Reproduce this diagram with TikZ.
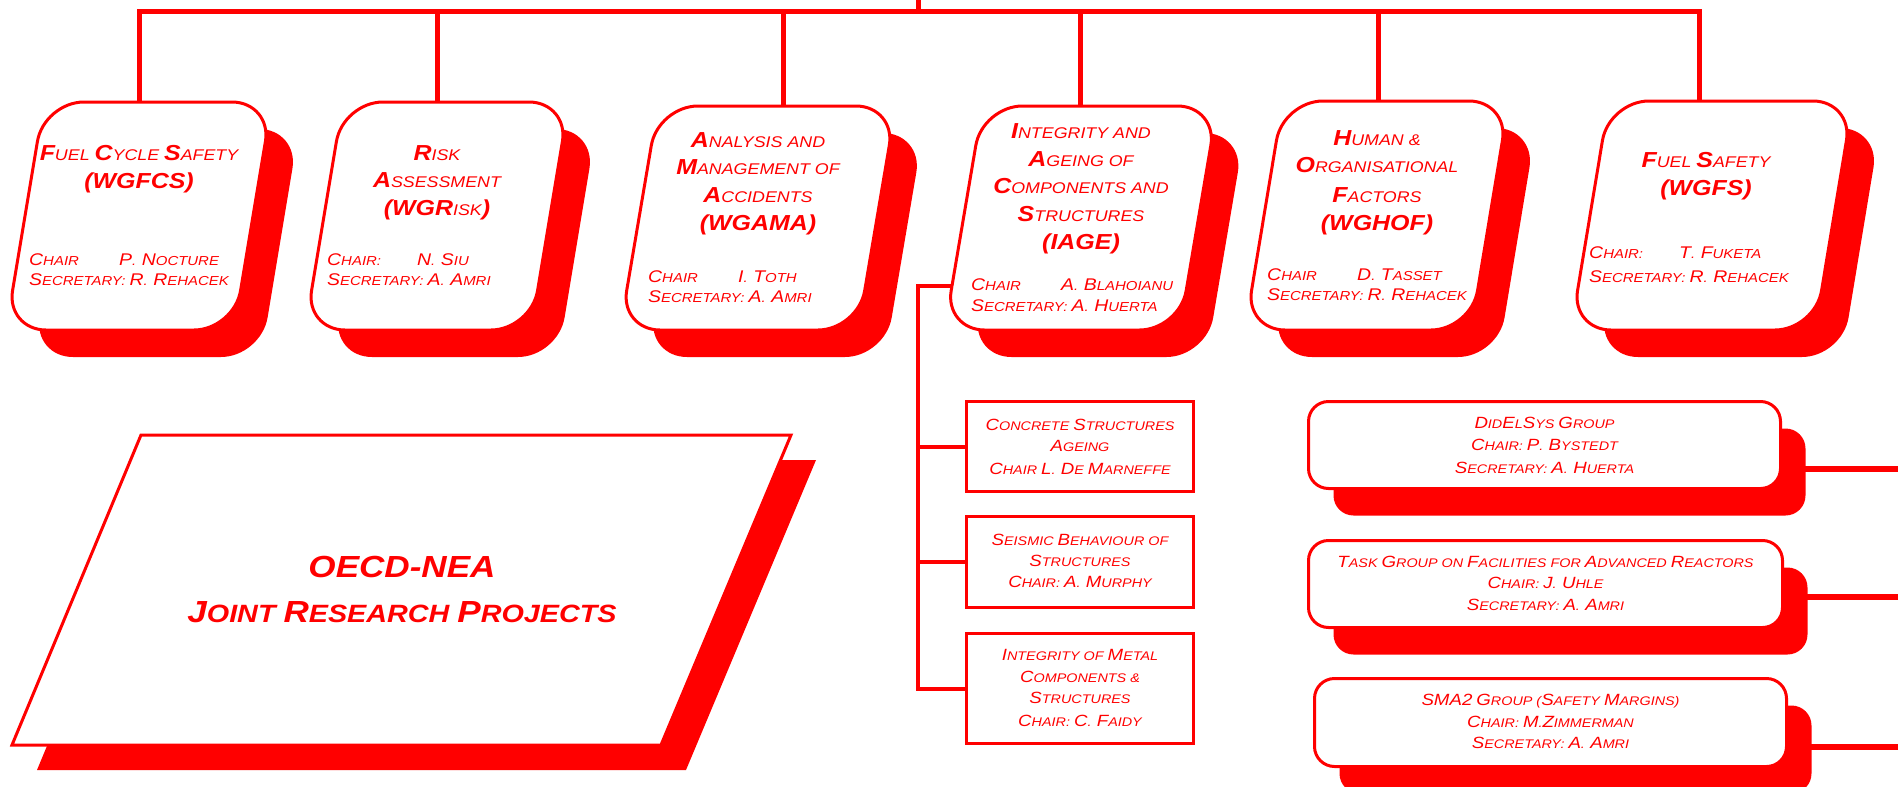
\documentclass[tikz,border=0pt]{standalone}
\usepackage{fontspec}
\setmainfont{Liberation Sans}[FakeStretch=1.15]
\usetikzlibrary{shadows}
\def\ufac{1.3}
\newcommand\U[1]{\scalebox{\ufac}{#1}}
\newcommand\UB[1]{\scalebox{\ufac}{\bfseries #1}}
% slanted rounded box with shadow: centre x, top y, width
\newcommand\bigbox[3]{%
  \fill[red, rounded corners=40pt] ({#1-#3/2+46},{#2+27}) -- ({#1+#3/2+46},{#2+27}) -- ({#1+#3/2+8},357) -- ({#1-#3/2+8},357) -- cycle;
  \draw[red, line width=3pt, fill=white, rounded corners=40pt] ({#1-#3/2+19},#2) -- ({#1+#3/2+19},#2) -- ({#1+#3/2-19},330) -- ({#1-#3/2-19},330) -- cycle;}
\tikzset{
  ttl/.style={text=red, inner sep=0pt, anchor=base, font=\def\ufac{1.4}\fontsize{15.5}{18}\selectfont\itshape},
  chr/.style={text=red, inner sep=0pt, anchor=base west, font=\def\ufac{1.3}\fontsize{13}{15}\selectfont\itshape},
  sml/.style={text=red, inner sep=0pt, anchor=base, font=\def\ufac{1.3}\fontsize{12.5}{15}\selectfont\itshape},
  bigt/.style={text=red, inner sep=0pt, anchor=base, font=\def\ufac{1.22}\fontsize{25}{30}\selectfont\bfseries\itshape},
  conn/.style={draw=red, line width=5pt},
  conn2/.style={draw=red, line width=4pt},
  conn3/.style={draw=red, line width=6pt},
  rectbox/.style={draw=red, line width=3.5pt, fill=white, inner sep=0pt},
  rbox/.style={draw=red, line width=3pt, fill=white, rounded corners=20pt, inner sep=0pt,
    drop shadow={shadow xshift=25pt, shadow yshift=-27pt, opacity=1, fill=red}},
}
\begin{document}
\begin{tikzpicture}[x=1pt, y=-1pt]
\useasboundingbox[fill=white] (0,0) rectangle (1898,787);

% ---- slanted group boxes ----
\bigbox{139}{102}{228}
\bigbox{437}{102}{226}
\bigbox{758}{106}{238}
\bigbox{1081}{106}{235}
\bigbox{1377}{101}{226}
\bigbox{1712}{101}{244}

% ---- joint research projects parallelogram ----
\fill[red] (166,460) -- (816,460) -- (686,770) -- (37,770) -- cycle;
\draw[red, line width=3pt, fill=white] (141,435) -- (791,435) -- (661,745) -- (12,745) -- cycle;
\node[bigt] (jr1) at (402,577) {\fontsize{30.5}{30}\selectfont OECD-NEA};
\node[bigt] (jr2) at (402,622) {\U{J}OINT \U{R}ESEARCH \U{P}ROJECTS};

% ---- IAGE sub-groups ----
\node[rectbox, minimum width=227pt, minimum height=90pt] (r1) at (1080,446.5) {};
\node[rectbox, minimum width=227pt, minimum height=91pt] (r2) at (1080,562) {};
\node[rectbox, minimum width=227pt, minimum height=110pt] (r3) at (1080,688.5) {};

% ---- right-hand groups ----
\node[rbox, minimum width=472pt, minimum height=87pt] (d1) at (1544.5,445) {};
\node[rbox, minimum width=474pt, minimum height=87pt] (d2) at (1545.5,584) {};
\node[rbox, minimum width=472pt, minimum height=88pt] (d3) at (1550.5,722.5) {};

% ---- texts of the slanted boxes ----
\node[ttl] (t1a) at (139,160) {\UB{F}UEL \UB{C}YCLE \UB{S}AFETY};
\node[ttl] (t1b) at (139,188) {\UB{(WGFCS)}};
\node[chr] (c1a) at (29,265) {\makebox[90pt][l]{\U{C}HAIR}\U{P}. \U{N}OCTURE};
\node[chr] (c1b) at (29,285) {\U{S}ECRETARY: \U{R}. \U{R}EHACEK};

\node[ttl] (t2a) at (437,160) {\UB{R}ISK};
\node[ttl] (t2b) at (437,187) {\UB{A}SSESSMENT};
\node[ttl] (t2c) at (437,215) {\UB{(WGR}ISK\UB{)}};
\node[chr] (c2a) at (327,265) {\makebox[90pt][l]{\U{C}HAIR:}\U{N}. \U{S}IU};
\node[chr] (c2b) at (327,285) {\U{S}ECRETARY: \U{A}. \U{A}MRI};

\node[ttl] (t3a) at (758,147) {\UB{A}NALYSIS AND};
\node[ttl] (t3b) at (758,174) {\UB{M}ANAGEMENT OF};
\node[ttl] (t3c) at (758,202) {\UB{A}CCIDENTS};
\node[ttl] (t3d) at (758,230) {\UB{(WGAMA)}};
\node[chr] (c3a) at (648,282) {\makebox[90pt][l]{\U{C}HAIR}\U{I}. \U{T}OTH};
\node[chr] (c3b) at (648,302) {\U{S}ECRETARY: \U{A}. \U{A}MRI};

\node[ttl] (t4a) at (1081,138) {\UB{I}NTEGRITY AND};
\node[ttl] (t4b) at (1081,166) {\UB{A}GEING OF};
\node[ttl] (t4c) at (1081,193) {\UB{C}OMPONENTS AND};
\node[ttl] (t4d) at (1081,221) {\UB{S}TRUCTURES};
\node[ttl] (t4e) at (1081,249) {\UB{(IAGE)}};
\node[chr] (c4a) at (971,290) {\makebox[90pt][l]{\U{C}HAIR}\U{A}. \U{B}LAHOIANU};
\node[chr] (c4b) at (971,311) {\U{S}ECRETARY: \U{A}. \U{H}UERTA};

\node[ttl] (t5a) at (1377,145) {\UB{H}UMAN \&};
\node[ttl] (t5b) at (1377,172) {\UB{O}RGANISATIONAL};
\node[ttl] (t5c) at (1377,202) {\UB{F}ACTORS};
\node[ttl] (t5d) at (1377,230) {\UB{(WGHOF)}};
\node[chr] (c5a) at (1267,280) {\makebox[90pt][l]{\U{C}HAIR}\U{D}. \U{T}ASSET};
\node[chr] (c5b) at (1267,300) {\U{S}ECRETARY: \U{R}. \U{R}EHACEK};

\node[ttl] (t6a) at (1706,167) {\UB{F}UEL \UB{S}AFETY};
\node[ttl] (t6b) at (1706,195) {\UB{(WGFS)}};
\node[chr] (c6a) at (1589,258) {\makebox[90pt][l]{\U{C}HAIR:}\U{T}. \U{F}UKETA};
\node[chr] (c6b) at (1589,282) {\U{S}ECRETARY: \U{R}. \U{R}EHACEK};

% ---- texts of the IAGE sub-groups ----
\node[sml] (r1a) at (1080,430) {\U{C}ONCRETE \U{S}TRUCTURES};
\node[sml] (r1b) at (1080,451) {\U{A}GEING};
\node[sml] (r1c) at (1080,474) {\U{C}HAIR \U{L}. \U{D}E \U{M}ARNEFFE};
\node[sml] (r2a) at (1080,545) {\U{S}EISMIC \U{B}EHAVIOUR OF};
\node[sml] (r2b) at (1080,566) {\U{S}TRUCTURES};
\node[sml] (r2c) at (1080,587) {\U{C}HAIR: \U{A}. \U{M}URPHY};
\node[sml] (r3a) at (1080,660) {\U{I}NTEGRITY OF \U{M}ETAL};
\node[sml] (r3b) at (1080,682) {\U{C}OMPONENTS \&};
\node[sml] (r3c) at (1080,703) {\U{S}TRUCTURES};
\node[sml] (r3d) at (1080,726) {\U{C}HAIR: \U{C}. \U{F}AIDY};

% ---- texts of the right-hand groups ----
\node[sml] (d1a) at (1544.5,428) {\U{D}ID\U{E}L\U{S}YS \U{G}ROUP};
\node[sml] (d1b) at (1544.5,450) {\U{C}HAIR: \U{P}. \U{B}YSTEDT};
\node[sml] (d1c) at (1544.5,473) {\U{S}ECRETARY: \U{A}. \U{H}UERTA};
\node[sml] (d2a) at (1545.5,567) {\U{T}ASK \U{G}ROUP ON \U{F}ACILITIES FOR \U{A}DVANCED \U{R}EACTORS};
\node[sml] (d2b) at (1545.5,588) {\U{C}HAIR: \U{J}. \U{U}HLE};
\node[sml] (d2c) at (1545.5,610) {\U{S}ECRETARY: \U{A}. \U{A}MRI};
\node[sml] (d3a) at (1550.5,705) {\U{SMA2} \U{G}ROUP (\U{S}AFETY \U{M}ARGINS)};
\node[sml] (d3b) at (1550.5,727) {\U{C}HAIR: \U{M}.\U{Z}IMMERMAN};
\node[sml] (d3c) at (1550.5,748) {\U{S}ECRETARY: \U{A}. \U{A}MRI};

% ---- connectors ----
\coordinate (root) at (918,0);
\coordinate (bus) at (918,11);
\coordinate (b1t) at (139,102);
\coordinate (b2t) at (437,102);
\coordinate (b3t) at (783,106);
\coordinate (b4t) at (1080,106);
\coordinate (b5t) at (1378,101);
\coordinate (b6t) at (1699,101);
\draw[conn] (b1t) |- (bus) -| (b6t);
\draw[conn] (root) -- (bus);
\draw[conn] (b2t) -- (b2t |- bus);
\draw[conn] (b3t) -- (b3t |- bus);
\draw[conn] (b4t) -- (b4t |- bus);
\draw[conn] (b5t) -- (b5t |- bus);

\coordinate (b4w) at (953,286);
\coordinate (sp) at (918,286);
\draw[conn2] (b4w) -- (sp) |- (r3.west);
\draw[conn2] (r1.west) -- (r1.west -| sp);
\draw[conn2] (r2.west) -- (r2.west -| sp);

\coordinate (e1) at (1898,469);
\coordinate (e2) at (1898,597);
\coordinate (e3) at (1898,747);
\draw[conn3] (e1) -- (e1 -| d1.east);
\draw[conn3] (e2) -- (e2 -| d2.east);
\draw[conn3] (e3) -- (e3 -| d3.east);
\end{tikzpicture}
\end{document}
